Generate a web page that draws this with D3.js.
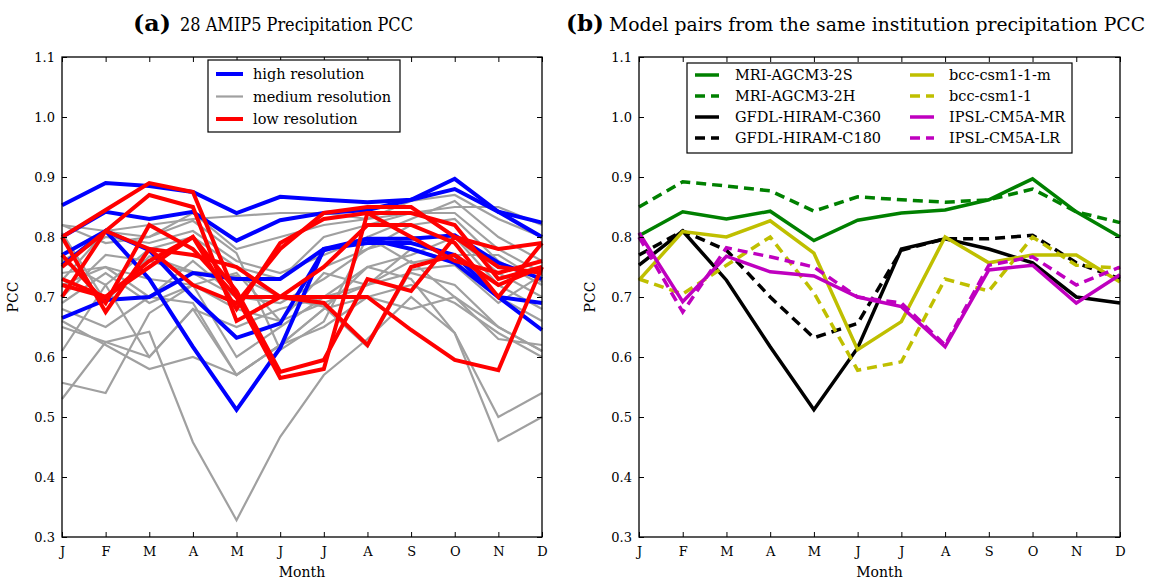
<!DOCTYPE html>
<html><head><meta charset="utf-8">
<script src="https://cdn.jsdelivr.net/npm/d3@7"></script>
<style>
body{margin:0;background:#fff}
svg{display:block;font-family:"DejaVu Serif",serif}
svg text{font-family:"DejaVu Serif",serif !important;fill:#000}
</style>
</head><body>
<svg id="c" width="1149" height="580"></svg>
<script>
// ---------- tick labels / categories ----------
const months = ["J","F","M","A","M","J","J","A","S","O","N","D"];
const yTickValues = [0.3,0.4,0.5,0.6,0.7,0.8,0.9,1.0,1.1];

// ---------- panel (a): 28 AMIP5 models ----------
const highResolution = [
  [0.853,0.890,0.885,0.875,0.840,0.867,0.862,0.858,0.862,0.880,0.842,0.824],
  [0.800,0.842,0.830,0.842,0.794,0.828,0.840,0.845,0.862,0.897,0.842,0.800],
  [0.753,0.810,0.730,0.617,0.512,0.615,0.780,0.797,0.780,0.757,0.700,0.690],
  [0.770,0.810,0.778,0.700,0.632,0.656,0.778,0.797,0.797,0.803,0.757,0.730],
  [0.665,0.695,0.700,0.740,0.730,0.730,0.780,0.790,0.790,0.770,0.700,0.645]
];
const mediumResolution = [
  [0.728,0.809,0.800,0.827,0.773,0.612,0.659,0.800,0.757,0.770,0.770,0.725],
  [0.807,0.692,0.768,0.742,0.735,0.700,0.684,0.617,0.745,0.753,0.690,0.737],
  [0.650,0.625,0.642,0.458,0.328,0.467,0.570,0.630,0.700,0.640,0.500,0.540],
  [0.557,0.540,0.673,0.720,0.600,0.650,0.700,0.720,0.760,0.700,0.650,0.610],
  [0.530,0.625,0.600,0.680,0.570,0.620,0.680,0.700,0.720,0.690,0.640,0.600],
  [0.820,0.810,0.820,0.830,0.835,0.840,0.840,0.830,0.840,0.850,0.850,0.820],
  [0.820,0.790,0.800,0.840,0.780,0.800,0.820,0.830,0.860,0.870,0.830,0.800],
  [0.760,0.720,0.780,0.800,0.750,0.730,0.800,0.820,0.840,0.840,0.780,0.740],
  [0.720,0.750,0.700,0.760,0.700,0.700,0.750,0.780,0.800,0.800,0.740,0.700],
  [0.690,0.740,0.690,0.720,0.680,0.660,0.740,0.720,0.780,0.760,0.700,0.660],
  [0.660,0.620,0.580,0.600,0.570,0.620,0.650,0.700,0.680,0.700,0.630,0.620],
  [0.610,0.720,0.600,0.680,0.650,0.680,0.700,0.750,0.730,0.640,0.460,0.500],
  [0.740,0.750,0.730,0.720,0.740,0.660,0.690,0.720,0.740,0.720,0.650,0.610],
  [0.700,0.770,0.760,0.740,0.700,0.690,0.730,0.780,0.820,0.830,0.760,0.720],
  [0.760,0.800,0.790,0.810,0.760,0.740,0.770,0.800,0.830,0.860,0.800,0.760],
  [0.680,0.650,0.700,0.690,0.570,0.620,0.680,0.750,0.770,0.800,0.720,0.680]
];
const lowResolution = [
  [0.730,0.700,0.750,0.800,0.710,0.575,0.595,0.730,0.710,0.800,0.750,0.740],
  [0.800,0.675,0.780,0.770,0.750,0.700,0.690,0.620,0.750,0.770,0.720,0.750],
  [0.800,0.845,0.890,0.875,0.700,0.565,0.580,0.840,0.840,0.820,0.730,0.750],
  [0.700,0.810,0.870,0.850,0.660,0.700,0.700,0.700,0.645,0.595,0.578,0.750],
  [0.770,0.690,0.820,0.780,0.700,0.700,0.750,0.820,0.820,0.790,0.700,0.790],
  [0.750,0.810,0.780,0.720,0.690,0.780,0.840,0.850,0.850,0.800,0.780,0.790],
  [0.720,0.700,0.760,0.800,0.680,0.790,0.830,0.840,0.800,0.760,0.740,0.760]
];
const legendA = ["high resolution","medium resolution","low resolution"];

// ---------- panel (b): model pairs ----------
const mriAgcm32S   = [0.802,0.842,0.830,0.843,0.794,0.828,0.840,0.845,0.862,0.897,0.842,0.800];
const mriAgcm32H   = [0.850,0.892,0.885,0.877,0.843,0.867,0.862,0.858,0.862,0.880,0.842,0.824];
const gfdlC360     = [0.753,0.810,0.728,0.617,0.512,0.615,0.780,0.797,0.780,0.757,0.700,0.690];
const gfdlC180     = [0.770,0.810,0.778,0.700,0.632,0.656,0.778,0.797,0.797,0.803,0.757,0.730];
const bccCsm11m    = [0.728,0.809,0.800,0.827,0.773,0.612,0.659,0.800,0.757,0.770,0.770,0.725];
const bccCsm11     = [0.730,0.705,0.753,0.800,0.707,0.578,0.592,0.730,0.710,0.800,0.753,0.748];
const ipslCm5aMR   = [0.807,0.692,0.768,0.742,0.735,0.700,0.684,0.617,0.745,0.753,0.690,0.737];
const ipslCm5aLR   = [0.800,0.675,0.782,0.767,0.750,0.700,0.690,0.620,0.753,0.767,0.720,0.750];
const pairNames = ["MRI-AGCM3-2S","MRI-AGCM3-2H","GFDL-HIRAM-C360","GFDL-HIRAM-C180",
                   "bcc-csm1-1-m","bcc-csm1-1","IPSL-CM5A-MR","IPSL-CM5A-LR"];
const pairColors = ["#008000","#008000","#000000","#000000","#bfbf00","#bfbf00","#bf00bf","#bf00bf"];
const pairDashed = [false,true,false,true,false,true,false,true];
const pairValues = [mriAgcm32S,mriAgcm32H,gfdlC360,gfdlC180,bccCsm11m,bccCsm11,ipslCm5aMR,ipslCm5aLR];

// ---------- drawing ----------
const svg = d3.select("#c");
const yTop = 57, yBot = 537;
const SERIF = "DejaVu Serif";

function panel(x0, x1, labelX, restX, restLen, titleBold, titleRest) {
  const g = svg.append("g");
  const x = d3.scalePoint().domain(d3.range(12)).range([x0, x1]);
  const y = d3.scaleLinear().domain([0.3, 1.1]).range([yBot, yTop]);
  const plot = g.append("g");
  const axL = d3.axisLeft(y).tickValues(yTickValues).tickFormat(d3.format(".1f")).tickSizeInner(-5).tickSizeOuter(0).tickPadding(7);
  const axR = d3.axisRight(y).tickValues(yTickValues).tickFormat("").tickSizeInner(-5).tickSizeOuter(0);
  const axB = d3.axisBottom(x).tickFormat(i => months[i]).tickSizeInner(-5).tickSizeOuter(0).tickPadding(10);
  const axT = d3.axisTop(x).tickFormat("").tickSizeInner(-5).tickSizeOuter(0);
  const gl = g.append("g").attr("transform", `translate(${x0},0)`).call(axL);
  const gr = g.append("g").attr("transform", `translate(${x1},0)`).call(axR);
  const gb = g.append("g").attr("transform", `translate(0,${yBot})`).call(axB);
  const gt = g.append("g").attr("transform", `translate(0,${yTop})`).call(axT);
  [gl,gr,gb,gt].forEach(a => {
    a.attr("font-family", SERIF).attr("font-size", 13);
    a.selectAll(".domain").remove();
    a.selectAll("line").attr("stroke","#000").attr("stroke-width",1);
    a.selectAll("text").attr("fill","#000");
  });
  g.append("rect").attr("x",x0).attr("y",yTop).attr("width",x1-x0).attr("height",yBot-yTop)
    .attr("fill","none").attr("stroke","#000").attr("stroke-width",1.3);
  g.append("text").attr("x",(x0+x1)/2).attr("y",577).attr("text-anchor","middle")
    .attr("font-size",14).text("Month");
  g.append("text").attr("transform",`translate(${x0-44},${(yTop+yBot)/2}) rotate(-90)`)
    .attr("text-anchor","middle").attr("font-size",14).text("PCC");
  g.append("text").attr("x",labelX).attr("y",31).attr("font-size",23).attr("font-weight","bold")
    .attr("textLength",38).attr("lengthAdjust","spacingAndGlyphs").text(titleBold);
  g.append("text").attr("x",restX).attr("y",31).attr("font-size",18)
    .attr("textLength",restLen).attr("lengthAdjust","spacingAndGlyphs").text(titleRest);
  return {plot, x, y, g};
}

// panel (a)
const A = panel(62, 542, 133, 180, 233, "(a)", "28 AMIP5 Precipitation PCC");
const lineA = d3.line().x((d,i) => A.x(i)).y(d => A.y(d));
A.plot.selectAll(".med").data(mediumResolution).join("path")
  .attr("d", lineA).attr("fill","none").attr("stroke","#a0a0a0").attr("stroke-width",2.2);
A.plot.selectAll(".hi").data(highResolution).join("path")
  .attr("d", lineA).attr("fill","none").attr("stroke","#0000ff").attr("stroke-width",4);
A.plot.selectAll(".lo").data(lowResolution).join("path")
  .attr("d", lineA).attr("fill","none").attr("stroke","#ff0000").attr("stroke-width",4);
const legA = A.g.append("g");
legA.append("rect").attr("x",208).attr("y",60).attr("width",192).attr("height",72)
  .attr("fill","#fff").attr("stroke","#000").attr("stroke-width",1.2);
const legAColors = ["#0000ff","#a0a0a0","#ff0000"];
legendA.forEach((name,i) => {
  const yy = 74 + i*22.5;
  legA.append("line").attr("x1",216).attr("x2",243).attr("y1",yy).attr("y2",yy)
    .attr("stroke",legAColors[i]).attr("stroke-width", i===1 ? 2.2 : 4);
  legA.append("text").attr("x",253).attr("y",yy+5).attr("font-size",14.5).text(name);
});

// panel (b)
const B = panel(639, 1120, 566, 609, 536, "(b)", "Model pairs from the same institution precipitation PCC");
const lineB = d3.line().x((d,i) => B.x(i)).y(d => B.y(d));
B.plot.selectAll("path.pair").data(pairValues).join("path").attr("class","pair")
  .attr("d", lineB).attr("fill","none")
  .attr("stroke",(d,i) => pairColors[i]).attr("stroke-width",3.5)
  .attr("stroke-dasharray",(d,i) => pairDashed[i] ? "10,6" : null);
const legB = B.g.append("g");
legB.append("rect").attr("x",687).attr("y",63).attr("width",385).attr("height",90)
  .attr("fill","#fff").attr("stroke","#000").attr("stroke-width",1.2);
pairNames.forEach((name,i) => {
  const col = i < 4 ? 0 : 1;
  const row = i % 4;
  const yy = 75 + row*21;
  const lx = col === 0 ? 695 : 910;
  const tx = col === 0 ? 735 : 949;
  legB.append("line").attr("x1",lx).attr("x2",lx+24).attr("y1",yy).attr("y2",yy)
    .attr("stroke",pairColors[i]).attr("stroke-width",3.5)
    .attr("stroke-dasharray",pairDashed[i] ? "10,6" : null);
  legB.append("text").attr("x",tx).attr("y",yy+5).attr("font-size",14.5).text(name);
});
</script>
</body></html>
